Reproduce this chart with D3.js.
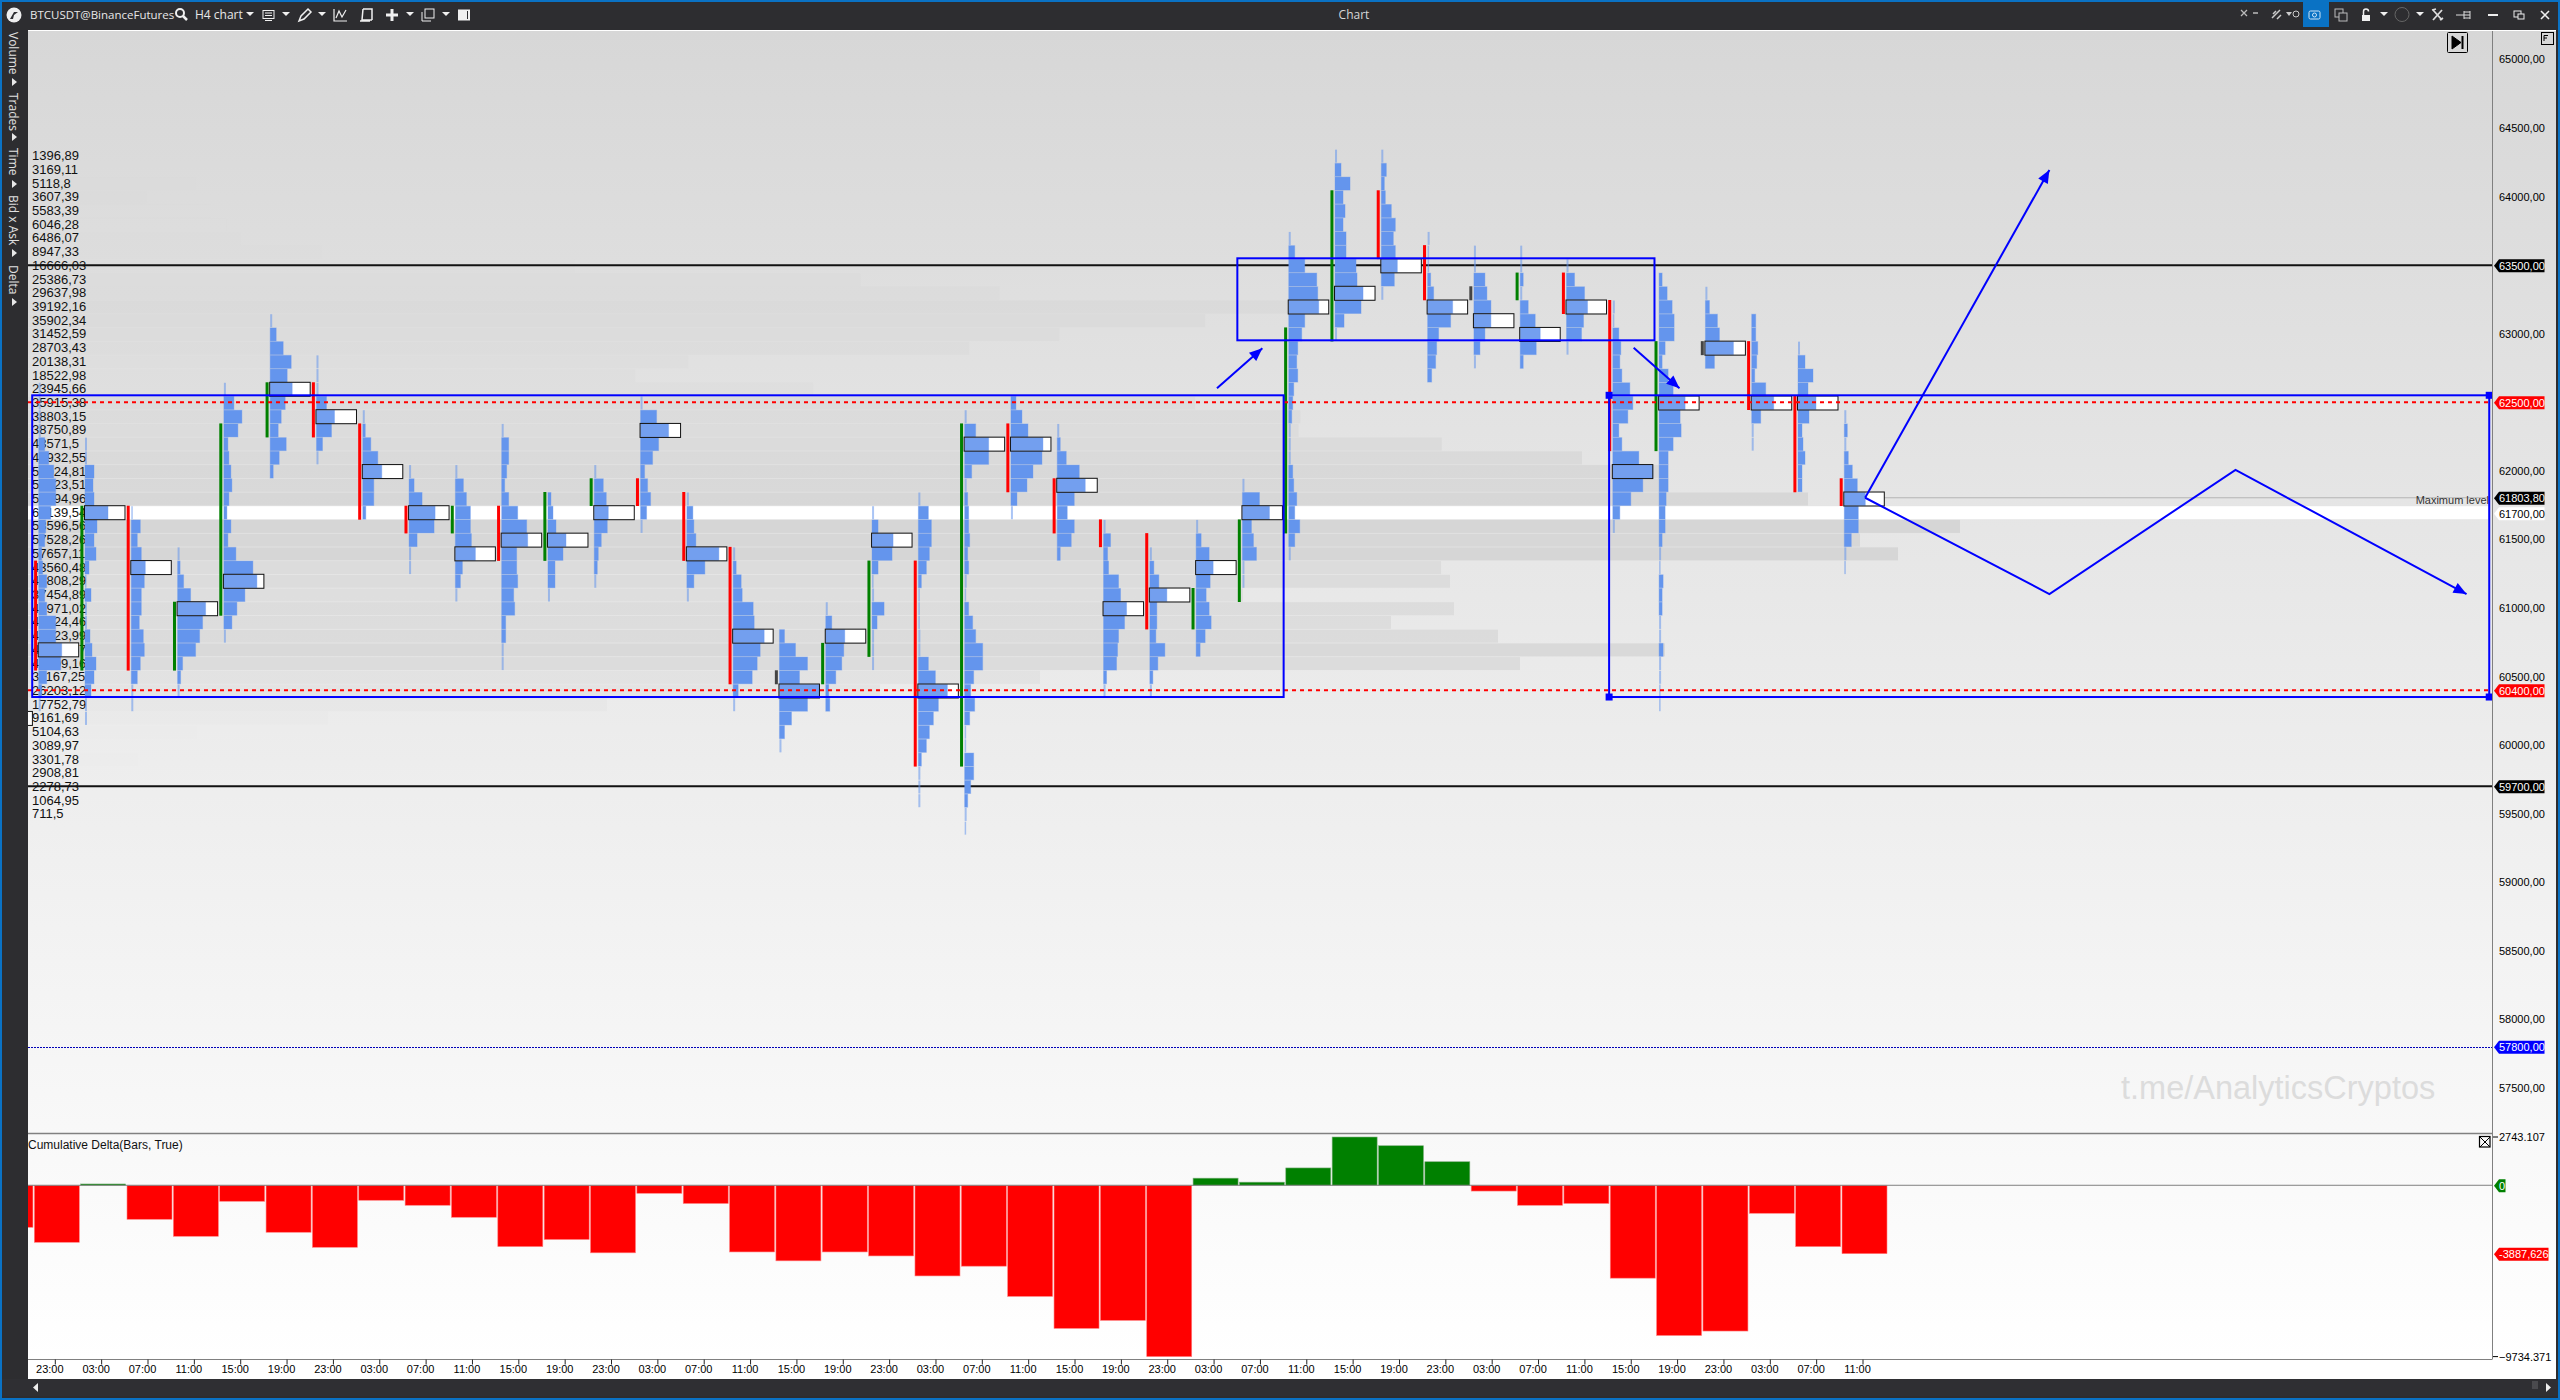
<!DOCTYPE html>
<html><head><meta charset="utf-8">
<script src="https://cdn.jsdelivr.net/npm/d3@7/dist/d3.min.js"></script>
<style>
html,body{margin:0;padding:0;background:#fff;overflow:hidden}
svg{display:block}
text{font-family:"Liberation Sans",Arial,sans-serif}
</style></head><body><svg id="c" width="2560" height="1400"></svg>
<script>
// ---------- composite profile (left edge of the chart)
const levelPrices = d3.range(64300, 59400, -100);
const levelLabels = ["1396,89","3169,11","5118,8","3607,39","5583,39","6046,28","6486,07","8947,33","16666,03","25386,73","29637,98","39192,16","35902,34","31452,59","28703,43","20138,31","18522,98","23945,66","35915,38","38803,15","38750,89","43571,5","47932,55","50024,81","50023,51","54294,96","65139,54","58596,56","57528,26","57657,11","43560,48","43808,29","37454,89","43971,02","41524,46","44823,99","49879,57","45509,16","31167,25","26203,12","17752,79","9161,69","5104,63","3089,97","3301,78","2908,81","2278,73","1064,95","711,5"];
const levelVolumes = [1396.89,3169.11,5118.8,3607.39,5583.39,6046.28,6486.07,8947.33,16666.03,25386.73,29637.98,39192.16,35902.34,31452.59,28703.43,20138.31,18522.98,23945.66,35600,38803.15,38750.89,43118,47397,50024,50023,54290,75030,58926,55876,57035,43097,43371,37058,43493,41571,44835,49928,45506,30866,25986,17660,9150,5155,3141,3355,2908.81,2278.73,1064.95,711.5];
const pocLevel = 61700;

// ---------- per bar footprint
const firstBar = -1;
const timeLabels = ["23:00","03:00","07:00","11:00","15:00","19:00","23:00","03:00","07:00","11:00","15:00","19:00","23:00","03:00","07:00","11:00","15:00","19:00","23:00","03:00","07:00","11:00","15:00","19:00","23:00","03:00","07:00","11:00","15:00","19:00","23:00","03:00","07:00","11:00","15:00","19:00","23:00","03:00","07:00","11:00"];
const barTop = [60200,62600,62200,61700,61400,62600,63100,62800,62400,62000,62000,62300,61800,62000,62500,61800,61400,60800,61000,61700,61800,62400,62500,62300,61600,61400,61600,61900,63700,64300,64300,63700,63600,63600,63500,63200,63400,63300,63100,62900,62400];
const barProfiles = [
[20],
[2,2,2,2,6,10,15,17,17,12,7,6,3,4,8,6,8,17,17,23,22,8,3,2],
[2,2,9,8,9,23,12,9,11,4,1.5,6,2,2,5,7,11,9,6,2,2],
[1.5,9,6,10,14,13,10,10,8,12,13,9,6,2,2],
[2,2.5,6,13,28,25,22,18,5,3,2],
[2,10,18,14,4,5,7,8,5,3,7,4,12,29,33,21,13,8,2],
[2,6,13,21,17,22,15,11,8,16,9,3],
[2,2,2,10,18,15,6,2],
[2,2.5,8,15,19,11,11,3],
[2,5,13,26,25,8,2,2],
[2,8,11,15,15,16,20,7,5,2],
[2,7,7,5,3,7,16,25,26,15,15,16,12,13,4,4,2,2],
[3,5,8,18,15,7,7,2],
[2,9,12,14,13,7,4,3,2],
[2,16,28,18,12,4,7,10,6,2],
[2,6,7,9,32,18,7,2],
[2,3,8,9,20,21,31,27,24,19,5,2],
[5,16,28,20,40,28,12,5,2],
[2,6,19,18,16,10,3,4],
[2,6,21,20,6,1.5,2,12,5,2,2,2],
[2,10,13,13,11,8,3,1.5,1.5,1.5,2,2,10,17,29,20,15,11,8,3,2,2,2],
[2,11,24,24,7,2,3,4,4,5,3,4,2,1.5,4,8,11,18,18,9,6,10,5,1.5,1.5,9,9,6,3,2,1.5],
[5,11,17,32,31,22,16,6,2],
[2,3,9,22,28,17,10,17,14,3],
[2,7,4,5,15,17,23,21,15,14,13,3,2],
[2,4,9,17,7,7,6,15,8,3,2],
[2,5,13,17,14,10,13,15,9,4],
[2,17,27,9,11,14,2,2],
[2,6,16,28,29,30,16,13,9,8,9,5,4,3,2,2,2,4,5,8,6,11,6,2],
[2,6,15,8,10,8,11,11,21,22,28,26,9,2],
[2,5,3,4,10,14,12,14,16,13,2],
[2,1,1,3,6,25,23,11,9,8,4],
[2,2,11,13,17,17,11,6,2],
[2,2,3,2,8,15,20,16,3],
[2,8,18,21,17,15,2],
[2,1,6,8,7,9,17,20,15,6,9,26,40,30,18,7,2],
[3,8,13,15,15,6,3,9,14,26,21,22,14,9,9,9,7,6,6,3,2,1.5,4,3,3,2,2,4,2,2,1.5,1.5],
[2,4,12,14,28,9],
[4,4,6,5,3,14,22,9,2,2],
[2,7,15,10,18,11,4,5,7,4,4],
[2,3,2,4,8,13,21,14,14,7,2,1.5]
];
const barPoc = [60200,60700,61700,61300,61000,61200,62600,62400,62000,61700,61400,61500,61500,61700,62300,61400,60800,60400,60800,61500,60400,62200,62200,61900,61000,61100,61300,61700,63200,63300,63500,63200,63100,63000,63200,62000,62500,62900,62500,62500,61800];
const candleHigh = [null,61300,61700,61700,61000,62300,62600,62600,62300,61700,61700,61700,61800,61900,61900,61800,61400,60500,60700,61300,61300,62300,62300,61900,61600,61500,61100,61600,63000,64000,64000,63600,63300,63400,63400,63200,62900,62900,62900,62500,61900];
const candleLow  = [null,60600,60600,60600,60600,61000,62300,62300,61700,61600,61600,61400,61400,61800,61800,61400,60500,60500,60500,60700,59900,59900,61900,61600,61500,60900,60900,61100,61600,63000,63600,63300,63300,63300,63200,62200,62200,62900,62500,61900,61800];
const candleDir  = ["","r","g","r","g","g","g","r","r","r","g","r","g","g","r","r","r","n","g","g","r","g","r","r","r","r","g","g","g","g","r","r","n","g","r","r","g","n","r","r","r"];

// ---------- cumulative delta
const deltaValues = [-2386,-3239,74,-1932,-2898,-909,-2670,-3523,-852,-1136,-1818,-3485,-3080,-3838,-455,-1035,-3788,-4293,-3788,-4015,-5151,-4596,-6313,-8131,-7676,-9734.371,404,177,985,2743.107,2247,1338,-328,-1136,-1035,-5277,-8535,-8282,-1591,-3485,-3887.626];

// ---------- axes
const priceTicks = [65000,64500,64000,63000,62000,61500,61000,60500,60000,59500,59000,58500,58000,57500];
const priceTags = [[63500,"#000","#fff"],[62500,"#ff0000","#fff"],[60400,"#ff0000","#fff"],[59700,"#000","#fff"],[57800,"#0000ff","#fff"],[61803.8,"#000","#fff"],[61700,"#fff","#000"]];
const deltaScaleTicks = [2743.107,-9734.371];

// ---------- user drawings, in [bar index, price]
const solidLevels = [63500,59700];
const dashedLevels = [62500,60400];
const dottedLevels = [57800];
const boxes = [{x0:-0.14,x1:26.89,hi:62551,lo:60351},{x0:33.92,x1:52.93,hi:62551,lo:60351,handles:true},{x0:25.89,x1:34.9,hi:63550,lo:62952}];
const arrows = [[[25.45,62602],[26.43,62894]],[[34.45,62898],[35.44,62602]],[[39.45,61804],[43.43,64194]]];
const zigzag = [[39.45,61804],[43.43,61102],[47.45,62007],[52.44,61102]];

// ---------- scales
const barX = d3.scaleLinear().domain([0,39]).range([38.7,1844.3]);
const deltaX = d3.scaleLinear().domain([0,39]).range([34.3,1842]);
const priceY = d3.scaleLinear().domain([62500,60400]).range([402.3,690.3]);
const volW = d3.scaleLinear().domain([0,40]).range([0,40]);
const levelW = d3.scaleLinear().domain([0,75030]).range([0,2460]);
const deltaY = d3.scaleLinear().domain([-9734.371,2743.107]).range([1356.6,1137]);
const rowY = p => priceY(p)+0.7-6.5;
const ROW_H = 13;
const L=28, R=2492;

const svg = d3.select("#c");
const defs = svg.append("defs");
const g = defs.append("linearGradient").attr("id","bg").attr("x1",0).attr("y1",0).attr("x2",0).attr("y2",1);
g.append("stop").attr("offset",0).attr("stop-color","#d7d7d7");
g.append("stop").attr("offset",1).attr("stop-color","#ffffff");
defs.append("clipPath").attr("id","plot").append("rect").attr("x",L).attr("y",31).attr("width",R-L).attr("height",1328);

// chrome
svg.append("rect").attr("width",2560).attr("height",1400).attr("fill","#0a72c4");
svg.append("rect").attr("x",2).attr("y",2).attr("width",2556).attr("height",1396).attr("fill","#2d2d30");
svg.append("rect").attr("x",L).attr("y",30).attr("width",2528).attr("height",1349).attr("fill","#fff");
svg.append("rect").attr("x",L).attr("y",31).attr("width",2528).attr("height",1328).attr("fill","url(#bg)");
svg.append("rect").attr("x",2).attr("y",1379).attr("width",2556).attr("height",17).attr("fill","#2f2f33");

const plot = svg.append("g").attr("clip-path","url(#plot)");

// composite rows
plot.append("g").selectAll("rect").data(levelPrices.map((p,i)=>({p,v:levelVolumes[i]}))).join("rect")
  .attr("x",L).attr("y",d=>rowY(d.p)).attr("height",ROW_H)
  .attr("width",d=>d.p===pocLevel?R-L-4:levelW(d.v))
  .attr("fill",d=>d.p===pocLevel?"#ffffff":"#d6d6d6")
  .attr("fill-opacity",d=>d.p===pocLevel?1:Math.min(1,Math.pow(d.v/57000,1.5)));

// composite labels
plot.append("g").selectAll("text").data(levelPrices.map((p,i)=>({p,t:levelLabels[i]}))).join("text")
  .attr("x",32).attr("y",d=>priceY(d.p)+4.7).attr("font-size",13).attr("fill","#111").text(d=>d.t);

// watermark
plot.append("text").attr("x",2121).attr("y",1099).attr("font-size",32.5).attr("fill","#dcdcdc").text("t.me/AnalyticsCryptos");

// solid and dotted levels
plot.append("g").selectAll("line").data(solidLevels).join("line").attr("x1",L).attr("x2",R)
  .attr("y1",d=>priceY(d)).attr("y2",d=>priceY(d)).attr("stroke","#111").attr("stroke-width",2);
plot.append("g").selectAll("line").data(dottedLevels).join("line").attr("x1",L).attr("x2",R)
  .attr("y1",d=>Math.round(priceY(d))+0.5).attr("y2",d=>Math.round(priceY(d))+0.5).attr("stroke","#0000b8").attr("stroke-width",1).attr("stroke-dasharray","2 1");

// maximum level guide
plot.append("line").attr("x1",barX(39)+40).attr("x2",2488).attr("y1",priceY(61803.8)).attr("y2",priceY(61803.8)).attr("stroke","#b4b4b4");
plot.append("text").attr("x",2489).attr("y",504).attr("text-anchor","end").attr("font-size",11).attr("fill","#333").text("Maximum level");

// footprint bars
const barsG = plot.append("g");
barProfiles.forEach((vols,k)=>{
  const idx = k+firstBar, x0 = barX(idx);
  const rows = vols.map((v,j)=>({v,p:barTop[k]-j*100}));
  // POC box background first, then the profile, then its outline
  barsG.append("rect").attr("x",x0).attr("y",rowY(barPoc[k])).attr("width",40).attr("height",ROW_H).attr("fill","#fff");
  barsG.append("g").selectAll("rect").data(rows).join("rect")
    .attr("x",x0).attr("y",d=>rowY(d.p)).attr("height",ROW_H)
    .attr("width",d=>Math.max(volW(d.v),1.5))
    .attr("fill","#6495ed")
    .attr("fill-opacity",d=>d.v<=2?0.55:(d.p===barPoc[k]?0.9:1))
    .attr("stroke","#6495ed").attr("stroke-opacity",d=>d.v<=2?0:0.35).attr("stroke-width",1);
  barsG.append("rect").attr("x",x0-0.5).attr("y",rowY(barPoc[k])-0.5).attr("width",40.5).attr("height",ROW_H+1)
    .attr("fill","none").attr("stroke","#111").attr("stroke-width",1);
  if(candleHigh[k]!==null){
    const c = candleDir[k];
    barsG.append("rect").attr("x",x0-4.6).attr("width",3)
      .attr("y",rowY(candleHigh[k])-0.5).attr("height",rowY(candleLow[k])+ROW_H+1-rowY(candleHigh[k]))
      .attr("fill",c==="r"?"#ff0000":c==="g"?"#008000":"#444");
  }
});

// dashed levels
plot.append("g").selectAll("line").data(dashedLevels).join("line").attr("x1",L).attr("x2",R)
  .attr("y1",d=>priceY(d)).attr("y2",d=>priceY(d)).attr("stroke","#ff0000").attr("stroke-width",2).attr("stroke-dasharray","4 4");

// delta panel
const dG = plot.append("g");
dG.append("line").attr("x1",L).attr("x2",R).attr("y1",1133.5).attr("y2",1133.5).attr("stroke","#808080").attr("stroke-width",1.5);
dG.append("text").attr("x",28).attr("y",1149).attr("font-size",12).attr("fill","#111").text("Cumulative Delta(Bars, True)");
dG.append("g").selectAll("rect").data(deltaValues.map((v,k)=>({v,i:k+firstBar}))).join("rect")
  .attr("x",d=>deltaX(d.i)).attr("width",45)
  .attr("y",d=>Math.min(deltaY(d.v),deltaY(0)))
  .attr("height",d=>Math.abs(deltaY(d.v)-deltaY(0)))
  .attr("fill",d=>d.v<0?"#ff0000":"#008000")
  .attr("stroke",d=>d.v<0?"#ff8080":"#80b080").attr("stroke-width",0.6);
dG.append("line").attr("x1",L).attr("x2",R).attr("y1",deltaY(0)).attr("y2",deltaY(0)).attr("stroke","#808080").attr("stroke-width",1);

// blue drawings
const BLUE="#0000ff";
const draw = svg.append("g").attr("clip-path","url(#plot)");
boxes.forEach(b=>{
  draw.append("rect").attr("x",barX(b.x0)).attr("y",priceY(b.hi)).attr("width",barX(b.x1)-barX(b.x0)).attr("height",priceY(b.lo)-priceY(b.hi))
    .attr("fill","none").attr("stroke",BLUE).attr("stroke-width",2);
  if(b.handles){
    [[b.x0,b.hi],[b.x1,b.hi],[b.x1,b.lo],[b.x0,b.lo]].forEach(c=>{
      draw.append("rect").attr("x",barX(c[0])-3.5).attr("y",priceY(c[1])-3.5).attr("width",7).attr("height",7).attr("fill",BLUE);
    });
  }
});
const toPx = d=>[barX(d[0]),priceY(d[1])];
function arrowHead(a,b){
  const [x1,y1]=toPx(a),[x2,y2]=toPx(b);
  const t=Math.atan2(y2-y1,x2-x1),len=13,w=5.5;
  const bx=x2-len*Math.cos(t),by=y2-len*Math.sin(t);
  const pts=[[x2,y2],[bx+w*Math.sin(t),by-w*Math.cos(t)],[bx-w*Math.sin(t),by+w*Math.cos(t)]];
  draw.append("polygon").attr("points",pts.map(p=>p.join(",")).join(" ")).attr("fill",BLUE);
}
const lineGen=d3.line().x(d=>barX(d[0])).y(d=>priceY(d[1]));
arrows.forEach(a=>{
  draw.append("path").attr("d",lineGen(a)).attr("fill","none").attr("stroke",BLUE).attr("stroke-width",2);
  arrowHead(a[0],a[1]);
});
draw.append("path").attr("d",lineGen(zigzag)).attr("fill","none").attr("stroke",BLUE).attr("stroke-width",2);
arrowHead(zigzag[2],zigzag[3]);

// frame lines
svg.append("line").attr("x1",R+0.5).attr("x2",R+0.5).attr("y1",31).attr("y2",1359.5).attr("stroke","#808080").attr("stroke-width",1);
svg.append("line").attr("x1",L).attr("x2",R).attr("y1",1359.5).attr("y2",1359.5).attr("stroke","#808080").attr("stroke-width",1);

// right price axis
const fmt = v=>d3.format(".2f")(v).replace(".",",");
const yAxis = d3.axisRight(priceY).tickValues(priceTicks).tickSize(0).tickPadding(7).tickFormat(fmt);
const ya = svg.append("g").attr("transform",`translate(${R},0)`).call(yAxis);
ya.select(".domain").remove();
ya.selectAll("text").attr("font-size",11).attr("fill","#000").attr("font-family","Liberation Sans");

function tag(y,label,fill,txt,x2){
  const x0=R+2;
  svg.append("polygon").attr("points",`${x0},${y} ${x0+5},${y-6.5} ${x2},${y-6.5} ${x2},${y+6.5} ${x0+5},${y+6.5}`).attr("fill",fill);
  svg.append("text").attr("x",x0+5).attr("y",y+4).attr("font-size",11).attr("fill",txt).text(label);
}
priceTags.forEach(t=>tag(priceY(t[0])+(t[0]===61700?1.7:0.5),fmt(t[0]),t[1],t[2],2544.5));

// delta axis
deltaScaleTicks.forEach(v=>{
  svg.append("line").attr("x1",R+1).attr("x2",R+6).attr("y1",deltaY(v)).attr("y2",deltaY(v)).attr("stroke","#000");
});
const da = svg.append("g").attr("transform",`translate(${R},0)`).call(d3.axisRight(deltaY).tickValues(deltaScaleTicks).tickSize(0).tickPadding(7).tickFormat(d3.format(".3f")));
da.select(".domain").remove();
da.selectAll("text").attr("font-size",11).attr("fill","#000").attr("font-family","Liberation Sans");
tag(deltaY(0)+0.5,"0","#008000","#fff",2505.5);
tag(deltaY(deltaValues[deltaValues.length-1])+0.5,"-3887,626","#ff0000","#fff",2548.5);

// time axis
const tickIdx = d3.range(0,timeLabels.length);
const xa = svg.append("g").attr("transform","translate(0,1359.5)").call(
  d3.axisBottom(deltaX).tickValues(tickIdx).tickSize(5).tickPadding(3).tickFormat(i=>timeLabels[i]));
xa.select(".domain").remove();
xa.selectAll(".tick").attr("transform",d=>`translate(${deltaX(d)+21},0)`);
xa.selectAll("line").attr("stroke","#222");
xa.selectAll("text").attr("x",-5.5).attr("y",6).attr("font-size",11).attr("fill","#000").attr("font-family","Liberation Sans");

// chart buttons
const btn=svg.append("g").attr("stroke","#000").attr("fill","none");
btn.append("rect").attr("x",2447.5).attr("y",32.5).attr("width",20).attr("height",20).attr("rx",1);
btn.append("path").attr("d","M2452 36 L2461 42.5 L2452 49 Z").attr("fill","#000");
btn.append("rect").attr("x",2461.5).attr("y",36).attr("width",2).attr("height",13).attr("fill","#000").attr("stroke","none");
btn.append("rect").attr("x",2541.5).attr("y",32.5).attr("width",12).attr("height",12);
btn.append("path").attr("d","M2544 35.5 H2548 M2544 35.5 V41 M2544 38 H2547").attr("stroke-width",1);
btn.append("rect").attr("x",2479.5).attr("y",1136.5).attr("width",10.5).attr("height",10.5).attr("stroke-width",1.2);
btn.append("path").attr("d","M2480 1137 L2490 1147 M2490 1137 L2480 1147");

// window chrome text
const WHITE="#f0f0f0";
const ui = svg.append("g");
ui.append("text").attr("x",30).attr("y",19).attr("font-size",11.5).attr("fill","#e8e8e8").attr("style","font-family:'Open Sans'").text("BTCUSDT@BinanceFutures");
ui.append("text").attr("x",195).attr("y",19).attr("font-size",12).attr("fill","#e8e8e8").attr("style","font-family:'Open Sans'").text("H4 chart");
ui.append("text").attr("x",1354).attr("y",19).attr("text-anchor","middle").attr("font-size",12).attr("fill","#d8d8d8").attr("style","font-family:'Open Sans'").text("Chart");
const side=[["Volume",32,82],["Trades",93,137],["Time",148,184],["Bid x Ask",195,253],["Delta",265,302]];
side.forEach(s=>{
  ui.append("text").attr("transform",`translate(9,${s[1]}) rotate(90)`).attr("font-size",12).attr("fill","#e0e0e0").attr("style","font-family:'Open Sans'").text(s[0]);
  ui.append("path").attr("d",`M12 ${s[2]-4} L17 ${s[2]} L12 ${s[2]+4} Z`).attr("fill","#e8e8e8");
});
ui.append("circle").attr("cx",14).attr("cy",15).attr("r",7.5).attr("fill","#eee");
ui.append("path").attr("d","M10 19 L14 12 H18 L14 15 L13 19 Z").attr("fill","#2d2d30");
ui.append("circle").attr("cx",180).attr("cy",13).attr("r",4).attr("fill","none").attr("stroke",WHITE).attr("stroke-width",2);
ui.append("line").attr("x1",183).attr("y1",16).attr("x2",187).attr("y2",20).attr("stroke",WHITE).attr("stroke-width",2.5);
[250,286,322,410,446,2384,2420].forEach(x=>ui.append("path").attr("d",`M${x-4} 12 H${x+4} L${x} 16 Z`).attr("fill",WHITE));
ui.append("rect").attr("x",263).attr("y",10.5).attr("width",11).attr("height",8).attr("fill","none").attr("stroke",WHITE);
ui.append("path").attr("d","M265 13 H272 M265 15.5 H272 M265 20.5 H272").attr("stroke",WHITE);
ui.append("path").attr("d","M299 21 L301 16 L308 9 L311 12 L304 19 Z").attr("fill","none").attr("stroke",WHITE).attr("stroke-width",1.5);
ui.append("path").attr("d","M334 9 V21 H347 M336 18 L339 11 L342 17 L346 10").attr("fill","none").attr("stroke",WHITE).attr("stroke-width",1.2);
ui.append("path").attr("d","M363 9 H372 V20 M363 9 L362 20 H371 L372 20 M360 21 H370").attr("fill","none").attr("stroke",WHITE).attr("stroke-width",1.5);
ui.append("path").attr("d","M392 9 V21 M386 15 H398").attr("stroke",WHITE).attr("stroke-width",3);
ui.append("rect").attr("x",425).attr("y",9).attr("width",9).attr("height",9).attr("fill","none").attr("stroke",WHITE);
ui.append("path").attr("d","M422 12 V21 H431").attr("fill","none").attr("stroke",WHITE);
ui.append("rect").attr("x",458).attr("y",9.5).attr("width",12).attr("height",11).attr("fill",WHITE);
ui.append("rect").attr("x",467).attr("y",11).attr("width",1).attr("height",8).attr("fill","#2d2d30");
ui.append("rect").attr("x",2303).attr("y",2).attr("width",26).attr("height",25).attr("fill","#0a72c4");
ui.append("rect").attr("x",2309).attr("y",11).attr("width",11).attr("height",8).attr("rx",1.5).attr("fill","none").attr("stroke","#cfe6f8");
ui.append("circle").attr("cx",2314.5).attr("cy",15).attr("r",2).attr("fill","none").attr("stroke","#cfe6f8");
ui.append("rect").attr("x",2335).attr("y",9).attr("width",8).attr("height",8).attr("fill","none").attr("stroke","#bbb");
ui.append("rect").attr("x",2339).attr("y",13).attr("width",8).attr("height",8).attr("fill","#2d2d30").attr("stroke","#bbb");
ui.append("rect").attr("x",2362).attr("y",15).attr("width",8).attr("height",6).attr("fill",WHITE);
ui.append("path").attr("d","M2363.5 15 V11.5 A2.5 2.5 0 0 1 2368.5 11.5").attr("fill","none").attr("stroke",WHITE).attr("stroke-width",1.5);
ui.append("circle").attr("cx",2402).attr("cy",14.5).attr("r",7).attr("fill","none").attr("stroke","#666");
ui.append("path").attr("d","M2433 20 L2442 10 M2433 10 L2442 20 M2432 10 L2436 9 M2440 20 L2443 18").attr("stroke","#ddd").attr("stroke-width",1.8);
ui.append("path").attr("d","M2456 15 H2470 M2464 11 V19 M2470 11 V19 M2464 12 H2470 M2464 18 H2470").attr("stroke","#ddd");
ui.append("path").attr("d","M2488 15 H2498").attr("stroke","#eee").attr("stroke-width",2);
ui.append("rect").attr("x",2514).attr("y",11).attr("width",7).attr("height",6).attr("fill","none").attr("stroke","#eee");
ui.append("rect").attr("x",2518).attr("y",14).attr("width",6).attr("height",5).attr("fill","#2d2d30").attr("stroke","#eee");
ui.append("path").attr("d","M2541 11 L2549 19 M2549 11 L2541 19").attr("stroke","#eee").attr("stroke-width",1.6);
ui.append("path").attr("d","M2241 10 L2247 16 M2247 10 L2241 16 M2253 13 H2258").attr("stroke","#bbb").attr("stroke-width",1.3);
ui.append("path").attr("d","M2272 18 L2280 10 M2273 14 L2276 11 M2277 19 L2281 15").attr("stroke","#ccc").attr("stroke-width",1.5);
ui.append("path").attr("d","M2286 12 H2292 L2289 16 Z").attr("fill","#ccc");
ui.append("circle").attr("cx",2296).attr("cy",14).attr("r",3).attr("fill","none").attr("stroke","#ccc");
ui.append("path").attr("d","M38 1383 L33 1387.5 L38 1392 Z").attr("fill","#eee");
ui.append("path").attr("d","M2546 1383 L2551 1387.5 L2546 1392 Z").attr("fill","#eee");
ui.append("rect").attr("x",2532).attr("y",1381).attr("width",6).attr("height",8).attr("fill","#4a4a4e");
ui.append("rect").attr("x",2556).attr("y",30).attr("width",2).attr("height",1349).attr("fill","#2d2d30");
</script></body></html>
